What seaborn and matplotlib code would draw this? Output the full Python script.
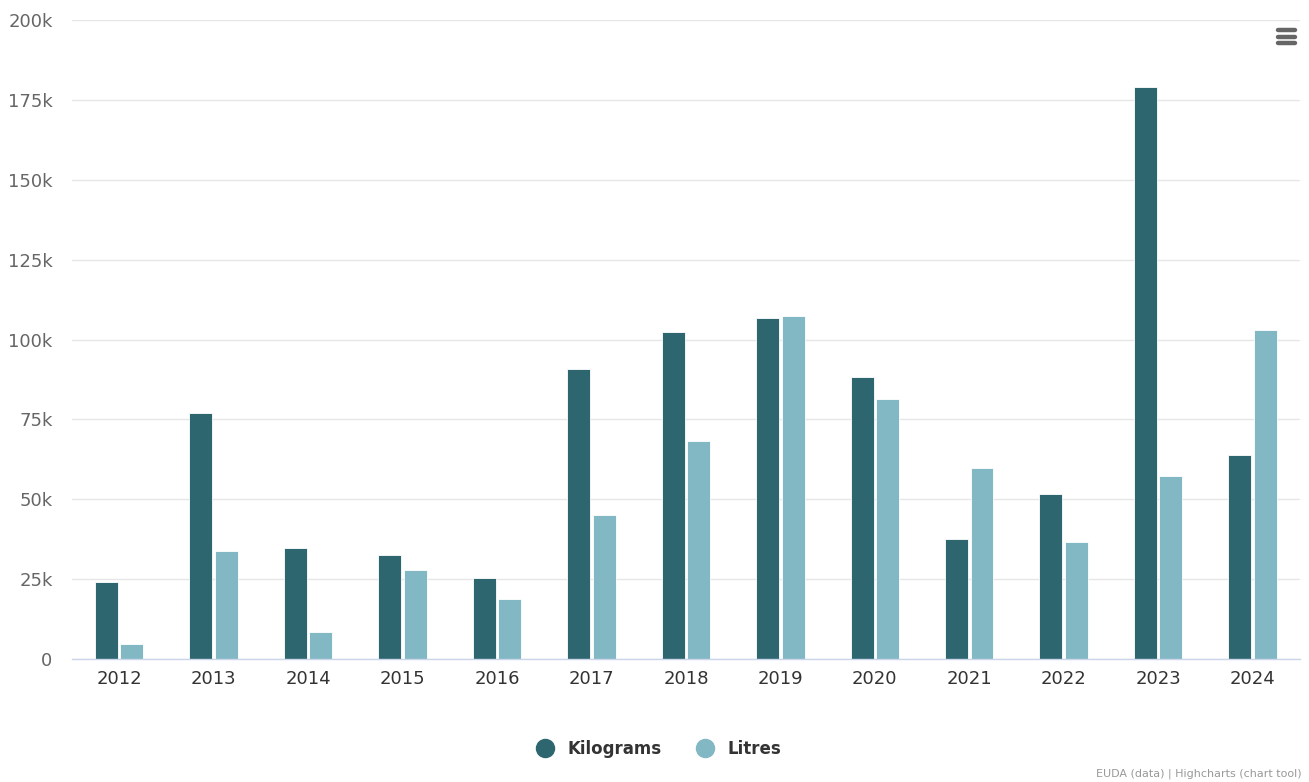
import pandas as pd
import numpy as np
import matplotlib
matplotlib.use("Agg")
import matplotlib.pyplot as plt
import seaborn as sns
from matplotlib.lines import Line2D

years = ["2012", "2013", "2014", "2015", "2016", "2017", "2018",
         "2019", "2020", "2021", "2022", "2023", "2024"]
kilograms = [24200, 77000, 34700, 32700, 25500, 90800, 102200,
             106800, 88400, 37600, 51700, 178900, 63900]
litres = [4700, 33900, 8400, 27900, 18900, 45200, 68300,
          107400, 81500, 59900, 36700, 57400, 103100]

series_names = ["Kilograms", "Litres"]
colors = ["#2e6670", "#81b8c4"]

df = pd.DataFrame({
    "year": years * 2,
    "value": kilograms + litres,
    "unit": ["Kilograms"] * len(years) + ["Litres"] * len(years),
})

sns.set_style("white")
plt.rcParams["font.family"] = ["DejaVu Sans"]

fig = plt.figure(figsize=(13.09, 7.82), dpi=100)
ax = fig.add_axes([0.055, 0.1573, 0.938, 0.8171])

sns.barplot(data=df, x="year", y="value", hue="unit", order=years,
            hue_order=series_names, palette=colors, saturation=1,
            width=0.54, gap=0.1, edgecolor="white", linewidth=0.6,
            legend=False, ax=ax)

ax.set_ylim(0, 200000)
ax.set_xlim(-0.5, len(years) - 0.5)
yt = np.arange(0, 200001, 25000)
ax.set_yticks(yt)
ax.set_yticklabels(["0"] + [f"{int(v / 1000)}k" for v in yt[1:]],
                   color="#666666", fontsize=13)
ax.tick_params(axis="x", colors="#333333", labelsize=13, length=0, pad=8)
ax.tick_params(axis="y", length=0, pad=14)
ax.grid(axis="y", color="#e6e6e6", linewidth=1)
ax.set_axisbelow(True)
ax.set_xlabel("")
ax.set_ylabel("")
for s in ["top", "right", "left"]:
    ax.spines[s].set_visible(False)
ax.spines["bottom"].set_color("#ccd6eb")
ax.spines["bottom"].set_linewidth(1)

handles = [Line2D([0], [0], marker="o", linestyle="", markersize=13,
                  markerfacecolor=c, markeredgecolor=c) for c in colors]
leg = fig.legend(handles, series_names, loc="center", bbox_to_anchor=(0.5, 0.042),
                 ncol=2, frameon=False, fontsize=12, handletextpad=0.35,
                 columnspacing=1.6)
for t in leg.get_texts():
    t.set_color("#333333")
    t.set_fontweight("bold")

fig.text(0.994, 0.004, "EUDA (data) | Highcharts (chart tool)", ha="right",
         va="bottom", fontsize=8, color="#999999")

# export menu icon
for yy in (0.961, 0.953, 0.945):
    fig.add_artist(Line2D([0.9765, 0.9895], [yy, yy], color="#666666",
                          linewidth=3.2, solid_capstyle="round"))

fig.savefig("out.png", dpi=100)
